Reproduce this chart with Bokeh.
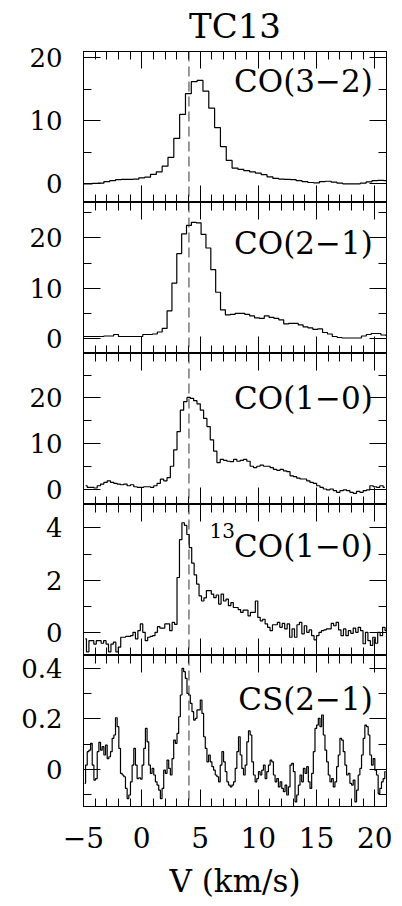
import numpy as np
from bokeh.plotting import figure
from bokeh.layouts import column
from bokeh.models import Span, LinearAxis, FixedTicker, Range1d
from bokeh.core.properties import value
from bokeh.embed import file_html
from bokeh.resources import INLINE

FONT = "DejaVu Serif"

# ---------------- data ----------------
title_text = "TC13"
x_label = "V (km/s)"
x_lim = (-5.0, 21.0)
x_major = [-5, 0, 5, 10, 15, 20]
x_minor = [m for m in range(-5, 22) if m % 5 != 0]
x_tick_labels = {-5: "\u22125", 0: "0", 5: "5", 10: "10", 15: "15", 20: "20"}
v_ref = 4.05  # dashed reference velocity

# CO(3-2): channel grid start / width and antenna temperatures
co32_label = "CO(3\u22122)"
co32_v0, co32_dv = -5.0, 0.5
co32_T = [0.0, 0.0, 0.05, 0.1, 0.35, 0.5, 0.65, 0.7, 0.7, 0.75,
          0.95, 1.05, 1.5, 1.9, 2.8, 4.2, 7.2, 11.0, 14.3, 16.2,
          16.4, 14.7, 12.0, 8.9, 5.9, 3.7, 2.5, 2.3, 2.1, 1.9,
          1.7, 1.45, 1.1, 0.85, 0.75, 0.7, 0.65, 0.5, 0.35, 0.2,
          0.15, 0.35, 0.4, 0.25, 0.1, 0.0, 0.0, 0.0, 0.1, 0.3,
          0.5, 0.55, 0.5]

# CO(2-1)
co21_label = "CO(2\u22121)"
co21_v0, co21_dv = -5.126, 0.417
co21_T = [0.4, 0.4, 0.4, 0.4, 0.4, 0.5, 0.5, 0.8, 0.4, 0.4,
          0.4, 0.4, 0.4, 0.8, 0.8, 0.9, 1.3, 2.0, 5.5, 11.0,
          16.9, 20.8, 22.5, 23.1, 23.0, 20.7, 18.0, 13.7, 9.2, 5.7,
          4.7, 4.8, 5.0, 5.0, 4.8, 4.5, 4.1, 4.0, 4.5, 4.2,
          4.0, 3.7, 2.9, 3.0, 3.0, 2.7, 2.3, 2.1, 1.8, 1.9,
          1.2, 0.9, 0.4, 0.2, 0.1, 0.1, 0.1, 0.1, 0.5, 0.8,
          1.0, 1.0, 0.7, 0.6]

# CO(1-0)
co10_label = "CO(1\u22120)"
co10_v0, co10_dv = -4.822, 0.2853
co10_T = [0.72, 0.36, 0.36, 0.22, 0.72, 1.08, 1.44, 1.8, 1.44, 1.22,
          1.08, 0.94, 1.08, 0.72, 0.94, 0.5, 0.36, 0.36, 0.5, 0.5,
          0.36, 0.72, 1.22, 2.16, 1.8, 2.5, 5.0, 8.6, 12.6, 17.3,
          19.2, 20.1, 19.9, 19.4, 18.7, 17.3, 15.5, 13.7, 10.8, 8.3,
          5.8, 6.5, 6.3, 6.1, 6.0, 6.5, 6.1, 6.3, 6.5, 6.1,
          5.0, 4.7, 5.0, 5.25, 5.0, 5.0, 4.7, 4.3, 4.1, 4.3,
          4.0, 3.8, 2.9, 2.7, 2.4, 2.2, 2.2, 1.8, 1.44, 1.22,
          0.72, 0.36, 0.0, -0.2, 0.0, -0.36, -0.72, -0.36, -0.2, -0.36,
          -0.72, -0.94, -0.5, -0.72, -0.36, -0.2, 0.72, 0.5, 0.36, 0.72,
          0.36]

# 13CO(1-0)
c13o_label = "CO(1\u22120)"
c13o_sup = "13"
c13o_v0, c13o_dv = -4.85, 0.21
c13o_T = [-0.25, -0.75, -0.32, -0.32, -0.45, -0.32, -0.32, -0.42, -0.32, -0.45,
          -0.75, -0.45, -0.38, -0.75, -0.57, -0.19, -0.19, -0.16, -0.16, -0.13,
          0.00, -0.25, 0.06, 0.32, 0.00, -0.32, -0.19, -0.16, -0.13, 0.00,
          0.22, 0.16, 0.16, 0.32, 0.32, 0.06, 0.38, 0.30, 2.10, 3.55,
          4.20, 4.10, 3.75, 3.25, 2.65, 2.20, 1.85, 1.40, 1.20, 1.32,
          1.60, 1.60, 1.46, 1.33, 1.43, 1.08, 1.46, 1.20, 1.27, 1.02,
          1.14, 0.95, 0.95, 0.87, 0.76, 0.85, 0.85, 0.63, 0.76, 0.76,
          1.20, 0.57, 0.44, 0.50, 0.32, 0.19, 0.06, 0.29, 0.29, 0.38,
          0.19, 0.34, 0.13, 0.32, -0.19, 0.13, -0.19, 0.29, 0.38, -0.06,
          0.25, 0.00, 0.09, -0.13, -0.29, -0.13, 0.00, 0.06, 0.09, 0.13,
          0.13, 0.34, 0.25, 0.38, 0.09, -0.13, 0.13, -0.13, 0.06, -0.04,
          0.16, 0.00, 0.19, 0.06, -0.44, 0.00, -0.32, -0.50, -0.19, -0.42,
          0.00, -0.13, 0.19, 0.06]

# CS(2-1)
cs_label = "CS(2\u22121)"
cs_v0, cs_dv = -4.893, 0.14265
cs_T = [-0.055, 0.017, 0.070, 0.076, 0.103, 0.017, -0.042, -0.036, 0.070, 0.107,
        0.076, 0.090, 0.057, 0.096, 0.043, 0.050, 0.070, 0.123, 0.136, 0.204,
        0.169, 0.083, -0.016, -0.022, -0.029, -0.075, -0.115, -0.101, -0.049, 0.017,
        0.083, 0.017, -0.036, -0.033, -0.038, 0.017, 0.083, 0.162, 0.109, 0.017,
        -0.016, 0.004, -0.022, -0.049, -0.062, -0.082, -0.115, -0.075, -0.003, -0.016,
        0.037, 0.004, -0.022, 0.043, 0.116, 0.103, 0.142, 0.208, 0.294, 0.399,
        0.386, 0.360, 0.300, 0.294, 0.261, 0.228, 0.195, 0.202, 0.235, 0.235,
        0.274, 0.221, 0.129, 0.083, 0.030, 0.057, 0.030, 0.011, -0.003, -0.022,
        -0.029, -0.049, 0.017, 0.070, 0.030, -0.009, -0.049, -0.062, -0.069, -0.062,
        -0.049, 0.004, 0.070,
        0.129, 0.057, 0.004, -0.022, 0.017, 0.109, 0.152, 0.136, 0.030, -0.022,
        -0.049, -0.036, -0.009, -0.022, -0.003, 0.017, -0.036, -0.009, 0.017, 0.037,
        0.030, -0.022, -0.049, -0.036, -0.069, -0.049, -0.075, -0.088, -0.062, -0.101,
        -0.069, 0.017, 0.024, -0.009, -0.128, -0.101, -0.062, -0.022, -0.049, 0.004,
        -0.016, 0.011, -0.049, -0.075, -0.016, 0.070, 0.162, 0.175, 0.202, 0.169,
        0.215, 0.136, 0.076, 0.030, -0.022, -0.049, -0.036, -0.069, -0.049, 0.011,
        0.057, 0.123, 0.116, 0.070, 0.017, -0.022, -0.016, -0.055, -0.062, -0.042,
        -0.128, -0.082, -0.022, 0.004, 0.057, 0.123, 0.175, 0.169, 0.136, 0.057,
        0.017, 0.043, -0.003, -0.022, -0.095, -0.075, -0.049, -0.036, -0.009]

# y-axis ranges and ticks per panel
co32_ylim, co32_major, co32_minor = (-2.97, 20.99), [0, 10, 20], [5, 15]
co21_ylim, co21_major, co21_minor = (-2.98, 27.05), [0, 10, 20], [5, 15, 25]
co10_ylim, co10_major, co10_minor = (-3.4, 29.75), [0, 10, 20], [5, 15, 25]
c13o_ylim, c13o_major, c13o_minor = (-0.89, 4.90), [0, 2, 4], [1, 3]
cs_ylim, cs_major, cs_minor = (-0.1465, 0.450), [0, 0.2, 0.4], [-0.1, 0.1, 0.3]

# label anchor (right edge, vertical middle) in data units
co32_lpos = (19.83, 16.35)
co21_lpos = (19.83, 18.9)
co10_lpos = (19.83, 19.95)
c13o_lpos = (19.83, 3.29)
c13o_spos = (7.99, 3.92)
cs_lpos = (19.83, 0.28)

panels = [
    dict(v0=co32_v0, dv=co32_dv, T=co32_T, ylim=co32_ylim, major=co32_major, minor=co32_minor,
         label=co32_label, lpos=co32_lpos, labels={0: "0", 10: "10", 20: "20"}),
    dict(v0=co21_v0, dv=co21_dv, T=co21_T, ylim=co21_ylim, major=co21_major, minor=co21_minor,
         label=co21_label, lpos=co21_lpos, labels={0: "0", 10: "10", 20: "20"}),
    dict(v0=co10_v0, dv=co10_dv, T=co10_T, ylim=co10_ylim, major=co10_major, minor=co10_minor,
         label=co10_label, lpos=co10_lpos, labels={0: "0", 10: "10", 20: "20"}),
    dict(v0=c13o_v0, dv=c13o_dv, T=c13o_T, ylim=c13o_ylim, major=c13o_major, minor=c13o_minor,
         label=c13o_label, lpos=c13o_lpos, sup=c13o_sup, spos=c13o_spos,
         labels={0: "0", 2: "2", 4: "4"}),
    dict(v0=cs_v0, dv=cs_dv, T=cs_T, ylim=cs_ylim, major=cs_major, minor=cs_minor,
         label=cs_label, lpos=cs_lpos, labels={0: "0", 0.2: "0.2", 0.4: "0.4"}),
]

FW, FH = 303, 151
BL, BR = 83, 16
TOP, BOTTOM = 51, 100
MAJ_LEN, MIN_LEN = 17, 8


def base_axis(ax):
    ax.axis_line_color = "black"
    ax.axis_line_width = 1
    ax.major_tick_line_color = "black"
    ax.minor_tick_line_color = "black"
    ax.major_tick_out = 0
    ax.minor_tick_out = 0
    ax.major_tick_in = MAJ_LEN
    ax.minor_tick_in = MIN_LEN


def labeled_axis(major, minor, overrides, size, standoff):
    ax = LinearAxis(ticker=FixedTicker(ticks=major, minor_ticks=minor))
    base_axis(ax)
    ax.major_label_overrides = overrides
    ax.major_label_text_font = FONT
    ax.major_label_text_font_size = size
    ax.major_label_text_color = "black"
    ax.major_label_standoff = standoff
    return ax


def tick_only_axes(p, side, major, minor):
    # label-free sides: ticks drawn as "minor" ticks of an empty major ticker
    for pos, length in ((major, MAJ_LEN), (minor, MIN_LEN)):
        ax = LinearAxis(ticker=FixedTicker(ticks=[], minor_ticks=pos))
        base_axis(ax)
        ax.minor_tick_in = length
        p.add_layout(ax, side)


figs = []
n = len(panels)
for i, pn in enumerate(panels):
    first, last = i == 0, i == n - 1
    p = figure(frame_width=FW, frame_height=FH,
               x_range=Range1d(*x_lim), y_range=Range1d(*pn["ylim"]),
               x_axis_location=None, y_axis_location=None,
               output_backend="svg", toolbar_location=None,
               min_border_left=BL, min_border_right=BR,
               min_border_top=TOP if first else 0,
               min_border_bottom=BOTTOM if last else 0,
               outline_line_color="black", outline_line_width=1,
               background_fill_color="white", border_fill_color="white")
    p.xgrid.visible = False
    p.ygrid.visible = False

    # x axes
    if last:
        xb = labeled_axis(x_major, x_minor, x_tick_labels, "28px", 20)
        xb.axis_label = x_label
        xb.axis_label_text_font = FONT
        xb.axis_label_text_font_size = "31px"
        xb.axis_label_text_font_style = "normal"
        xb.axis_label_text_color = "black"
        xb.axis_label_standoff = 12
        p.add_layout(xb, "below")
    else:
        tick_only_axes(p, "below", x_major, x_minor)
    tick_only_axes(p, "above", x_major, x_minor)

    # y axes
    yl = labeled_axis(pn["major"], pn["minor"], pn["labels"], "26px", 21)
    p.add_layout(yl, "left")
    tick_only_axes(p, "right", pn["major"], pn["minor"])

    v = pn["v0"] + pn["dv"] * np.arange(len(pn["T"]))
    p.step(v, pn["T"], mode="center", line_color="black", line_width=1.2)

    p.add_layout(Span(location=v_ref, dimension="height", line_color="#333333",
                      line_width=1, line_dash="10 5"))

    p.text(x=[pn["lpos"][0]], y=[pn["lpos"][1]], text=[pn["label"]],
           text_align="right", text_baseline="middle",
           text_font=value(FONT), text_font_size="31px", text_color="black")
    if "sup" in pn:
        p.text(x=[pn["spos"][0]], y=[pn["spos"][1]], text=[pn["sup"]],
               text_align="right", text_baseline="middle",
               text_font=value(FONT), text_font_size="20px", text_color="black")

    if first:
        p.title.text = title_text
        p.title.align = "center"
        p.title.vertical_align = "top"
        p.title.text_font = FONT
        p.title.text_font_size = "34px"
        p.title.text_font_style = "normal"
        p.title.text_color = "black"
        p.title.standoff = 8
    figs.append(p)

layout = column(*figs, spacing=0)
open("out.html", "w").write(file_html(layout, INLINE))
